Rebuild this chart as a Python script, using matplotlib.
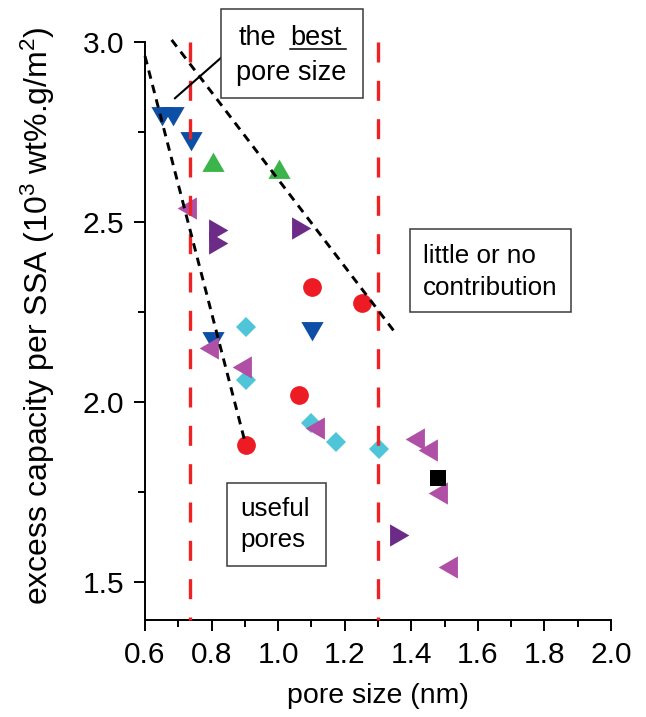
import matplotlib.pyplot as plt
from matplotlib.patches import Rectangle
from matplotlib.ticker import MultipleLocator

plt.rcParams['font.family'] = ['Liberation Sans', 'DejaVu Sans']
plt.rcParams['mathtext.fontset'] = 'custom'
plt.rcParams['mathtext.rm'] = 'Liberation Sans'
plt.rcParams['mathtext.it'] = 'Liberation Sans:italic'

# ---------------------------------------------------------------------------
# Data (pore size in nm, excess capacity per SSA)
# ---------------------------------------------------------------------------
blue_down_x = [0.651, 0.685, 0.739, 0.803, 1.103]
blue_down_y = [2.803, 2.803, 2.733, 2.176, 2.204]

green_up_x = [0.803, 1.002]
green_up_y = [2.658, 2.639]

red_circle_x = [1.103, 1.253, 1.063, 0.903]
red_circle_y = [2.319, 2.273, 2.019, 1.880]

cyan_diamond_x = [0.903, 0.903, 1.100, 1.175, 1.303]
cyan_diamond_y = [2.208, 2.060, 1.940, 1.889, 1.870]

pink_left_x = [0.735, 0.800, 0.900, 1.120, 1.420, 1.460, 1.490, 1.520]
pink_left_y = [2.537, 2.148, 2.097, 1.926, 1.898, 1.866, 1.746, 1.542]

purple_right_x = [0.810, 0.810, 1.060, 1.355]
purple_right_y = [2.477, 2.441, 2.482, 1.630]

black_square_x = [1.480]
black_square_y = [1.787]

trend_steep_x = [0.60, 0.90]
trend_steep_y = [2.960, 1.890]
trend_shallow_x = [0.68, 1.35]
trend_shallow_y = [3.005, 2.194]

boundaries = [0.735, 1.30]

x_ticks = [0.6, 0.8, 1.0, 1.2, 1.4, 1.6, 1.8, 2.0]
y_ticks = [1.5, 2.0, 2.5, 3.0]

# equilateral triangle markers
TRI_UP = [(0, 1), (-0.866, -0.5), (0.866, -0.5)]
TRI_DOWN = [(x, -y) for x, y in TRI_UP]
TRI_LEFT = [(-y, x) for x, y in TRI_UP]
TRI_RIGHT = [(y, -x) for x, y in TRI_UP]

fig = plt.figure(figsize=(6.46, 7.17), dpi=100)
ax = fig.add_axes([145 / 646, 1 - 620 / 717, 466 / 646, (620 - 41.7) / 717])
ax.set_xlim(0.6, 2.0)
ax.set_ylim(1.394, 3.0)

series = [
    (blue_down_x, blue_down_y, TRI_DOWN, 18.5, '#0d4ea6'),
    (green_up_x, green_up_y, TRI_UP, 18.5, '#3bb54a'),
    (red_circle_x, red_circle_y, 'o', 13.5, '#ed1c24'),
    (cyan_diamond_x, cyan_diamond_y, 'D', 10.5, '#4fc5d9'),
    (pink_left_x, pink_left_y, TRI_LEFT, 18.5, '#b04fa6'),
    (purple_right_x, purple_right_y, TRI_RIGHT, 18.5, '#6c2b87'),
    (black_square_x, black_square_y, 's', 11.5, '#000000'),
]
for xs, ys, mk, ms, col in series:
    ax.plot(xs, ys, linestyle='none', marker=mk, markersize=ms,
            markerfacecolor=col, markeredgewidth=0, zorder=2, clip_on=False)

# red boundaries
for xb in boundaries:
    ax.plot([xb, xb], [3.0, 1.394], color='#ee2222', linewidth=2.4,
            dashes=(6, 5.5), zorder=3, clip_on=False)

# black trend guides
for xs, ys in [(trend_steep_x, trend_steep_y), (trend_shallow_x, trend_shallow_y)]:
    ax.plot(xs, ys, color='black', linewidth=2.1, dashes=(2.9, 2.2),
            zorder=3, clip_on=False)

# annotation boxes
box_kw = dict(facecolor='white', edgecolor='#3a3a3a', linewidth=1.1,
              zorder=5, clip_on=False, transform=ax.transData)
ax.add_patch(Rectangle((0.828, 2.844), 1.254 - 0.828, 3.09 - 2.844, **box_kw))
ax.add_patch(Rectangle((1.395, 2.250), 1.880 - 1.395, 2.479 - 2.250, **box_kw))
ax.add_patch(Rectangle((0.847, 1.544), 1.145 - 0.847, 1.775 - 1.544, **box_kw))

ax.plot([0.69, 0.828], [2.843, 2.955], color='black', linewidth=1.5,
        zorder=4, clip_on=False)

txt_kw = dict(va='baseline', zorder=6, clip_on=False)
ax.text(0.993, 2.991, 'the', ha='right', fontsize=19.5, **txt_kw)
best = ax.text(1.035, 2.991, 'best', ha='left', fontsize=19.5, **txt_kw)
ax.text(1.038, 2.894, 'pore size', ha='center', fontsize=19.5, **txt_kw)
ax.text(1.435, 2.386, 'little or no', ha='left', fontsize=18.7, **txt_kw)
ax.text(1.435, 2.296, 'contribution', ha='left', fontsize=18.7, **txt_kw)
ax.text(0.885, 1.682, 'useful', ha='left', fontsize=18.7, **txt_kw)
ax.text(0.885, 1.596, 'pores', ha='left', fontsize=18.7, **txt_kw)

# underline "best"
fig.canvas.draw()
bb = best.get_window_extent().transformed(ax.transData.inverted())
ax.plot([bb.x0, bb.x1 + 0.015], [2.979, 2.979], color='black', linewidth=1.1,
        zorder=6, clip_on=False)

# axes styling
for side in ['top', 'right']:
    ax.spines[side].set_visible(False)
for side in ['left', 'bottom']:
    ax.spines[side].set_linewidth(1.4)
ax.set_xticks(x_ticks)
ax.set_yticks(y_ticks)
ax.xaxis.set_minor_locator(MultipleLocator(0.1))
ax.yaxis.set_minor_locator(MultipleLocator(0.25))
ax.tick_params(which='major', direction='out', length=8, width=1.4,
               labelsize=21.5, pad=7)
ax.tick_params(which='minor', direction='out', length=5, width=1.4)

ax.set_xlabel('pore size (nm)', fontsize=20.5, labelpad=10)
ax.set_ylabel('excess capacity per SSA (10$^3$ wt%.g/m$^2$)', fontsize=23)
ax.yaxis.set_label_coords(-0.189, 0.527)

fig.savefig('out.png', dpi=100)
